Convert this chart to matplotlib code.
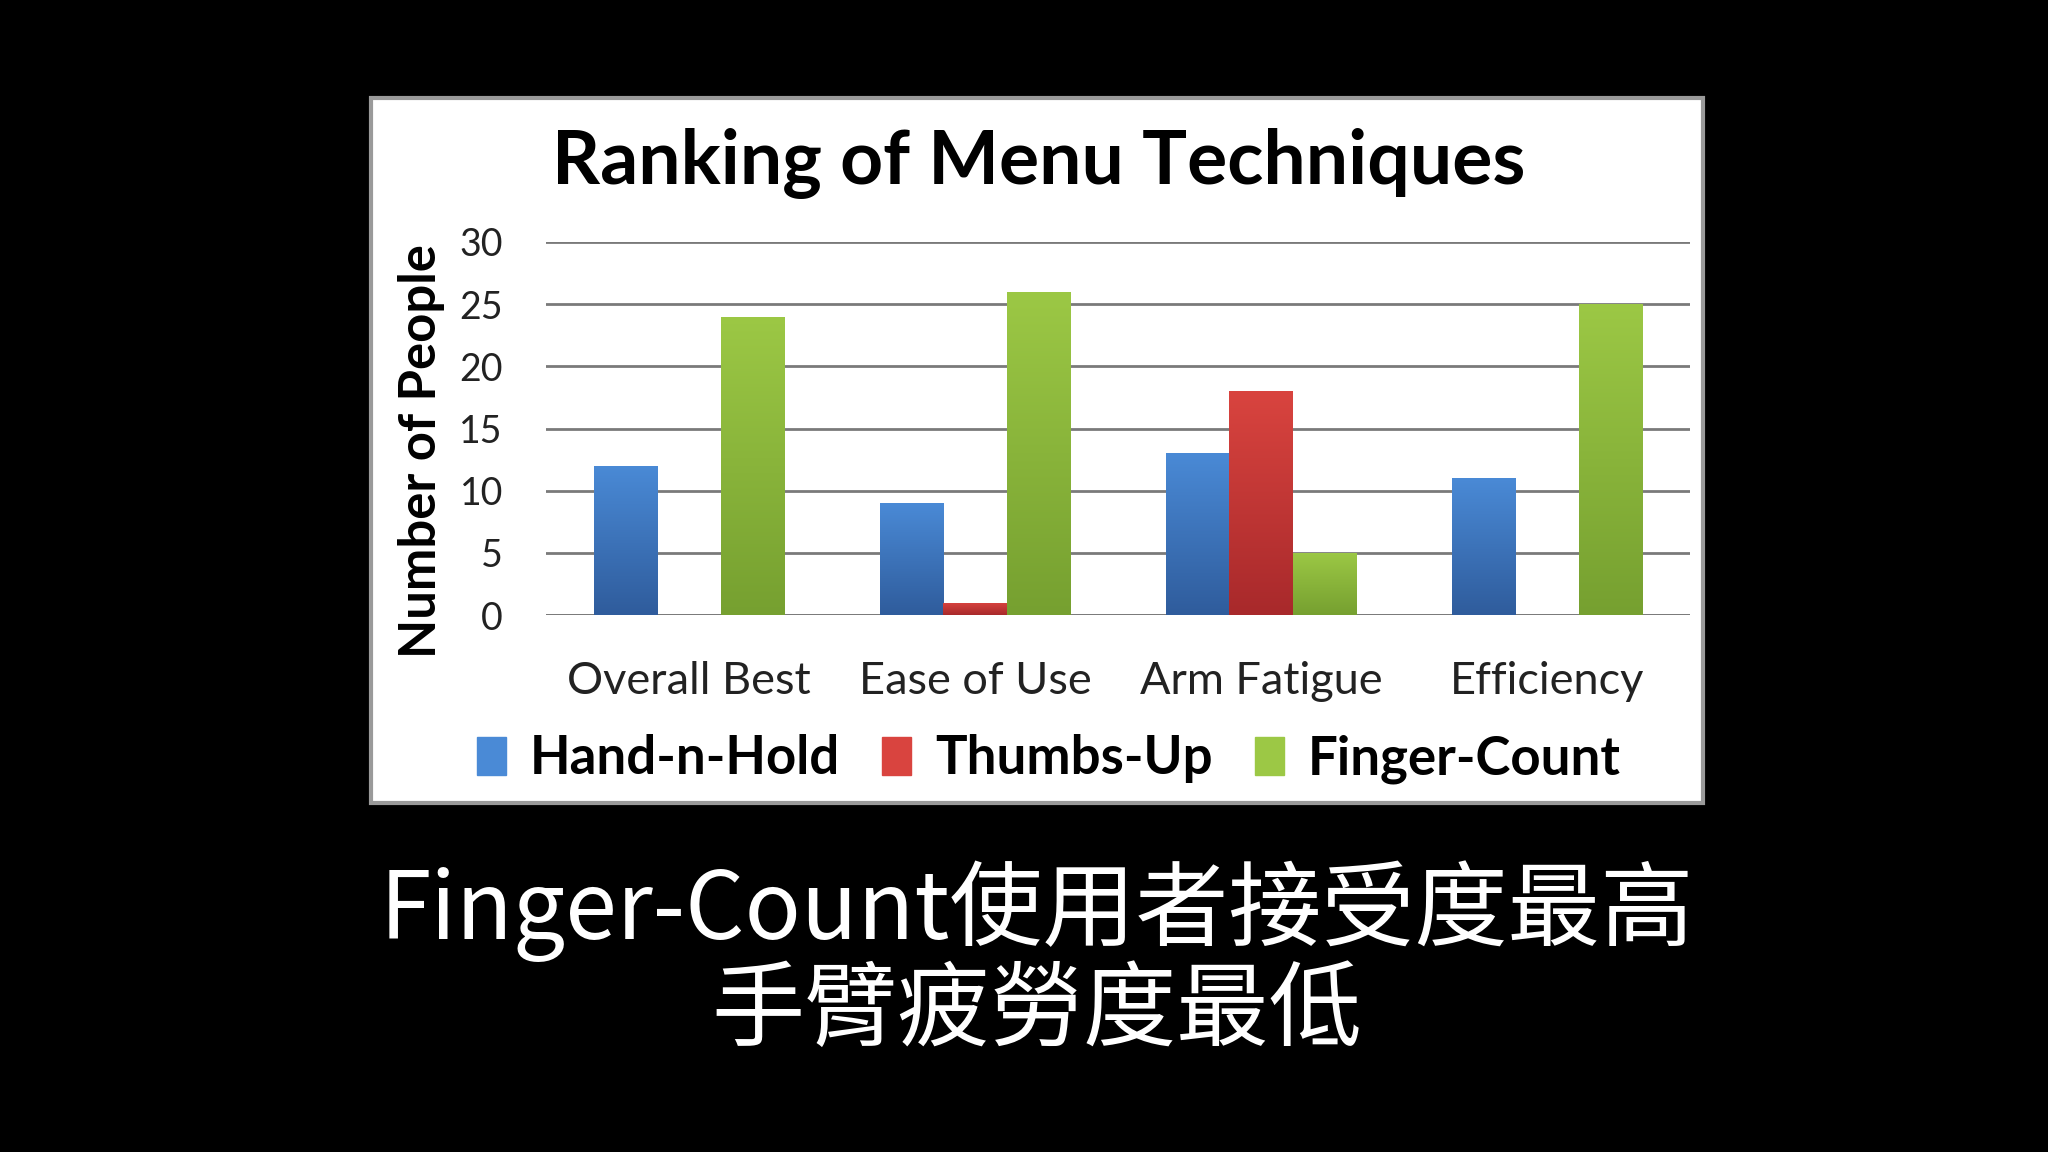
import numpy as np
import matplotlib
matplotlib.use("Agg")
import matplotlib.pyplot as plt
from matplotlib.patches import Rectangle
from matplotlib.colors import LinearSegmentedColormap

# data
categories = ["Overall Best", "Ease of Use", "Arm Fatigue", "Efficiency"]
hand_n_hold = [12, 9, 13, 11]
thumbs_up = [0, 1, 18, 0]
finger_count = [24, 26, 5, 25]
series_names = ["Hand-n-Hold", "Thumbs-Up", "Finger-Count"]
yticks = [0, 5, 10, 15, 20, 25, 30]

caption1 = "Finger-Count使用者接受度最高"
caption2 = "手臂疲勞度最低"

# colour (top, bottom) per series, bars have a soft vertical gradient
colors = [("#4A8AD6", "#2F5C9C"), ("#D9443F", "#A8292B"), ("#9CC845", "#76A030")]

plt.rcParams['font.family'] = ['Lato', 'DejaVu Sans']

fig = plt.figure(figsize=(20.48, 11.52), dpi=100, facecolor="black")

# white slide panel with grey border
fig.patches.append(Rectangle((0.1812, 0.303), 0.6503, 0.612, transform=fig.transFigure,
                             facecolor="white", edgecolor="#9a9a9a", linewidth=3, zorder=-1))

ax = fig.add_axes([0.2666, 0.466, 0.5586, 0.324])
ax.set_facecolor("none")

x = np.arange(len(categories))
w = 0.222
all_series = [hand_n_hold, thumbs_up, finger_count]
handles = []
for i, (vals, name, (c_top, c_bot)) in enumerate(zip(all_series, series_names, colors)):
    bars = ax.bar(x + (i - 1) * w, vals, width=w, color=c_top, label=name, zorder=3, linewidth=0)
    cmap = LinearSegmentedColormap.from_list(name, [c_bot, c_top])
    grad = np.linspace(0, 1, 256).reshape(-1, 1)
    for b in bars:
        if b.get_height() <= 0:
            continue
        x0, y0 = b.get_x(), b.get_y()
        im = ax.imshow(grad, cmap=cmap, origin="lower", aspect="auto",
                       extent=[x0, x0 + b.get_width(), y0, y0 + b.get_height()], zorder=4)
        im.set_clip_path(b)
    handles.append(Rectangle((0, 0), 1, 1, color=c_top))

ax.set_xlim(-0.5, len(categories) - 0.5)
ax.set_ylim(0, 30)
ax.set_yticks(yticks)
ax.set_yticklabels([str(t) for t in yticks], fontsize=27, color="#222222")
ax.set_xticks(x)
ax.set_xticklabels(categories, fontsize=32.5, color="#222222")
ax.tick_params(axis="both", length=0)
ax.tick_params(axis="x", pad=33)
ax.tick_params(axis="y", pad=31)
ax.yaxis.grid(True, color="#7a7a7a", linewidth=2, zorder=1)
for s in ax.spines.values():
    s.set_visible(False)
ax.axhline(0, color="#7a7a7a", linewidth=2, zorder=2)

fig.text(0.206, 0.6085, "Number of People", rotation=90, ha="center", va="center",
         fontsize=36.5, fontweight="bold", color="black")

fig.text(0.507, 0.8585, "Ranking of Menu Techniques", ha="center", va="center",
         fontsize=54, fontweight="bold", color="black")

fig.legend(handles, series_names, loc="center", bbox_to_anchor=(0.512, 0.341), ncol=3,
           frameon=False, prop={"weight": "bold", "size": 38}, handlelength=0.55,
           handleheight=0.75, handletextpad=0.45, columnspacing=0.8)

cap_font = ['Noto Sans CJK TC', 'DejaVu Sans']
fig.text(0.5064, 0.209, caption1, ha="center", va="center", color="white",
         fontsize=67, family=cap_font)
fig.text(0.5064, 0.121, caption2, ha="center", va="center", color="white",
         fontsize=67, family=cap_font)

fig.savefig("out.png", dpi=100, facecolor="black")
